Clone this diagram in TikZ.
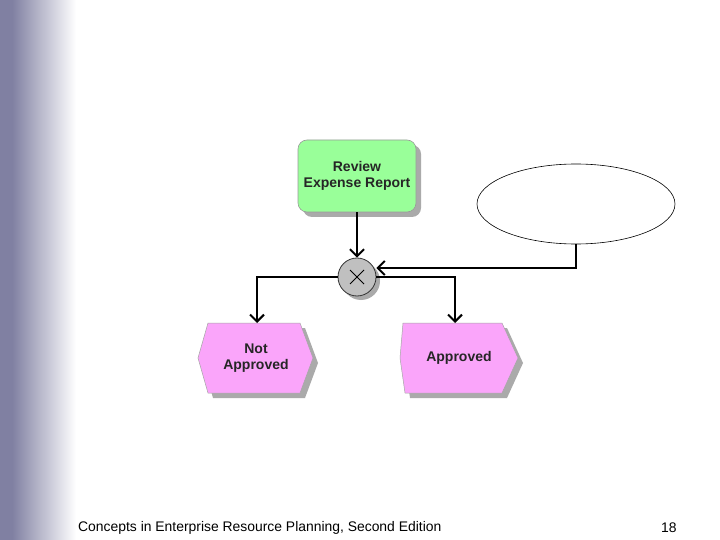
\documentclass[tikz,border=0pt]{standalone}
\usepackage{fontspec}
\setmainfont{Liberation Sans}
\usetikzlibrary{arrows.meta,shapes.geometric,shadows}
\definecolor{sidebar}{RGB}{128,128,162}
\definecolor{fnGreen}{RGB}{153,255,153}
\definecolor{evPink}{RGB}{250,165,250}
\definecolor{shad}{RGB}{170,170,170}
\definecolor{xorGray}{RGB}{192,192,192}
\tikzset{
  conn/.style={line width=2.2pt,-{Straight Barb[length=7pt,width=14pt,line width=2pt]}},
  lbl/.style={font=\bfseries\fontsize{14}{16}\selectfont,align=center,text=black!85},
  foot/.style={font=\fontsize{13.9}{15}\selectfont,anchor=west,inner sep=0pt}
}
\begin{document}
\begin{tikzpicture}[x=1pt,y=-1pt]
\useasboundingbox (0,0) rectangle (720,540);
\fill[white] (0,0) rectangle (720,540);
% sidebar gradient
\fill[sidebar] (0,0) rectangle (12,540);
\shade[left color=sidebar,right color=white] (12,0) rectangle (76,540);
% function box
\fill[shad,rounded corners=9pt] (303,145) rectangle (421,217);
\node[draw=gray!80,line width=0.6pt,fill=fnGreen,rounded corners=9pt,minimum width=118pt,minimum height=72pt,inner sep=0pt] (rev) at (357,176) {};
\node[lbl] (revt) at (357,176) {Review\\Expense Report};
% XOR
\fill[shad] (361,281) circle (19);
\node[circle,draw=black!80,line width=0.8pt,fill=xorGray,minimum size=38pt,inner sep=0pt] (xor) at (357,277) {};
\draw[line width=0.9pt] (350,270) -- (364,284) (350,284) -- (364,270);
% events
\fill[shad] (203,363) -- (213,328) -- (305,328) -- (318,363) -- (305,398) -- (213,398) -- cycle;
\fill[evPink,draw=gray!70,line width=0.5pt] (198,358) -- (208,323) -- (300,323) -- (313,358) -- (300,393) -- (208,393) -- cycle;
\coordinate (na) at (257,323);
\node[lbl] (nat) at (256,358) {Not\\Approved};
\fill[shad] (405,363) -- (408,328) -- (507,328) -- (523,363) -- (507,398) -- (410,398) -- cycle;
\fill[evPink,draw=gray!70,line width=0.5pt] (400,358) -- (403,323) -- (502,323) -- (518,358) -- (502,393) -- (405,393) -- cycle;
\coordinate (ap) at (455,323);
\node[lbl] (apt) at (459,358) {Approved};
% ellipse
\node[ellipse,draw=black,line width=0.6pt,minimum width=198pt,minimum height=80pt,inner sep=0pt] (ell) at (576,204) {};
% connectors
\draw[conn] (rev.south) -- (xor.north);
\draw[conn] (xor.west) -| (na);
\draw[conn] (xor.east) -| (ap);
\draw[conn] (ell.south) |- (xor.east |- 0,268);
% footer
\node[foot] (ft) at (78,528) {Concepts in Enterprise Resource Planning, Second Edition};
\node[foot] (pg) at (661,528) {18};
\end{tikzpicture}
\end{document}
